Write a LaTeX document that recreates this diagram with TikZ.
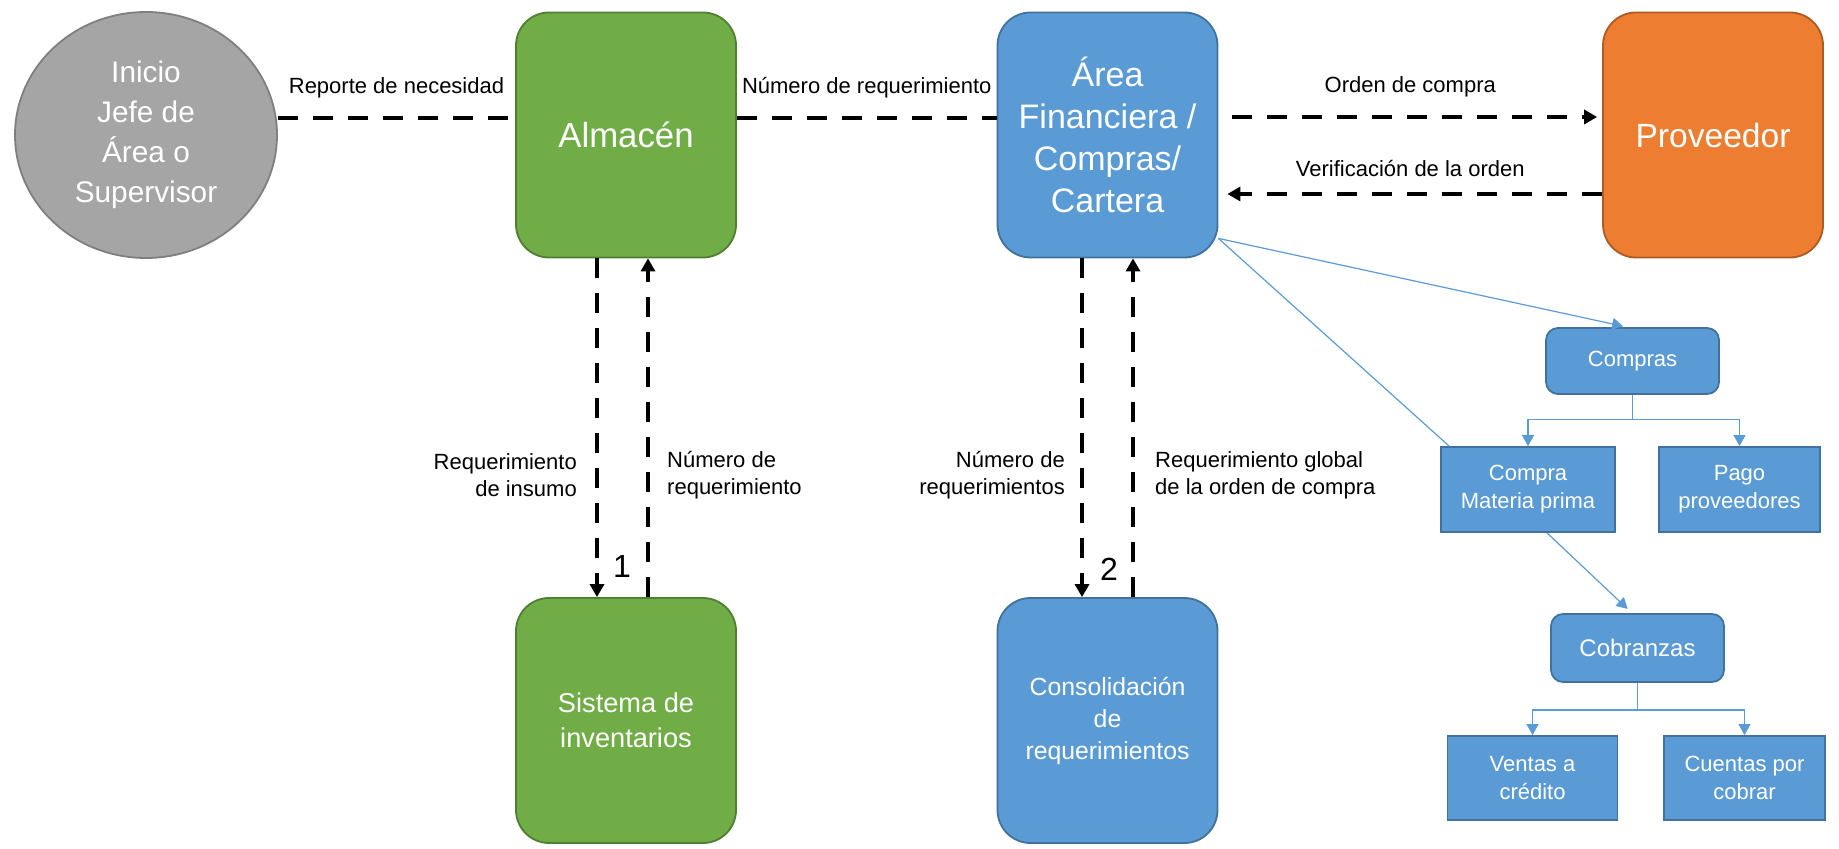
\documentclass[tikz,border=0pt]{standalone}
\usepackage{fontspec}
\setmainfont{Liberation Sans}
\usetikzlibrary{arrows.meta,shapes,positioning,calc}

\definecolor{gris}{HTML}{A5A5A5}
\definecolor{grisb}{HTML}{7F7F7F}
\definecolor{verde}{HTML}{70AD47}
\definecolor{verdeb}{HTML}{507E32}
\definecolor{azul}{HTML}{5B9BD5}
\definecolor{azulb}{HTML}{41719C}
\definecolor{naranja}{HTML}{ED7D31}
\definecolor{naranjab}{HTML}{AE5A21}

\begin{document}
\begin{tikzpicture} [x=0.5pt,y=-0.5pt,
  caja/.style={draw, rounded corners=16.5pt, line width=0.9pt, text=white, align=center, minimum width=110pt, minimum height=122.5pt},
  flujo/.style={line width=2.2pt, dash pattern=on 10pt off 7.5pt},
  punta/.style={-{Triangle[width=7pt,length=6.5pt]}},
  lbl/.style={font=\fontsize{11}{13.5}\selectfont, inner sep=2pt},
  num/.style={font=\fontsize{16}{16}\selectfont, inner sep=1pt},
  rama/.style={color=azul, line width=0.6pt},
  rpunta/.style={-{Triangle[width=6pt,length=5.5pt]}},
  hoja/.style={draw=azulb, fill=azul, line width=0.9pt, text=white, align=center, font=\fontsize{11}{14}\selectfont}]
\useasboundingbox (0,0) rectangle (1839,849);

\node[ellipse, draw=grisb, fill=gris, line width=0.9pt, minimum width=131pt, minimum height=123pt, text=white, align=center, font=\fontsize{14.9}{20}\selectfont] (inicio) at (146,135) {Inicio\\Jefe de\\Área o\\Supervisor};
\node[caja, fill=verde, draw=verdeb, font=\fontsize{17.4}{21}\selectfont, node distance=240pt, right of=inicio] (alm) {Almacén};
\node[caja, fill=azul, draw=azulb, font=\fontsize{17}{21}\selectfont, node distance=240.75pt, right of=alm] (area) {Área\\Financiera /\\Compras/\\Cartera};
\node[caja, fill=naranja, draw=naranjab, font=\fontsize{16.8}{21}\selectfont, node distance=302.75pt, right of=area] (prov) {Proveedor};
\node[caja, fill=verde, draw=verdeb, font=\fontsize{13.6}{17.5}\selectfont, node distance=292.75pt, below of=alm] (sis) {Sistema de\\inventarios};
\node[caja, fill=azul, draw=azulb, font=\fontsize{12.4}{16}\selectfont, node distance=292.75pt, below of=area] (cons) {Consolidación\\de\\requerimientos};

\node[hoja, rounded corners=6pt, minimum width=86.5pt, minimum height=33pt] (compras) at (1632.5,361) {Compras};
\node[hoja, minimum width=87pt, minimum height=42.5pt] (cmp) at (1528,489.5) {Compra\\Materia prima};
\node[hoja, minimum width=80.5pt, minimum height=42.5pt] (pago) at (1739.5,489.5) {Pago\\proveedores};
\node[hoja, rounded corners=6pt, minimum width=86.5pt, minimum height=34pt, font=\fontsize{12}{14}\selectfont] (cobr) at (1637.5,648) {Cobranzas};
\node[hoja, minimum width=85pt, minimum height=42pt] (ventas) at (1532.5,778) {Ventas a\\crédito};
\node[hoja, minimum width=80.5pt, minimum height=42pt] (cuentas) at (1744.5,778) {Cuentas por\\cobrar};

\path[flujo] ([yshift=8.5pt]inicio.east) edge node[lbl, above=7pt]{Reporte de necesidad} ([yshift=8.5pt]alm.west)
             ([yshift=8.5pt]alm.east) edge node[lbl, above=7pt]{Número de requerimiento} ([yshift=8.5pt]area.west);
\path[flujo, punta] ([yshift=9pt]area.east) edge[shorten <=7pt, shorten >=2.5pt] node[lbl, above=7pt]{Orden de compra} ([yshift=9pt]prov.west)
             ([yshift=-29.5pt]prov.west) edge[shorten >=4.5pt] node[lbl, above=5.5pt]{Verificación de la orden} ([yshift=-29.5pt]area.east);

\path[flujo, punta] ([xshift=-14.5pt]alm.south) edge node[lbl, pos=.64, left=7pt, align=right]{Requerimiento\\de insumo} node[num, pos=.91, right=6pt]{1} ([xshift=-14.5pt]sis.north)
             ([xshift=11pt]sis.north) edge node[lbl, pos=.36, right=6.5pt, align=left]{Número de\\requerimiento} ([xshift=11pt]alm.south)
             ([xshift=-12.75pt]area.south) edge node[lbl, pos=.64, left=5.5pt, align=right]{Número de\\requerimientos} node[num, pos=.918, right=7pt]{2} ([xshift=-12.75pt]cons.north)
             ([xshift=12.75pt]cons.north) edge node[lbl, pos=.36, right=8pt, align=left]{Requerimiento global\\de la orden de compra} ([xshift=12.75pt]area.south);

\path[rama, rpunta] (area.-43) edge[shorten >=2pt] ([xshift=-2.75pt]compras.north)
                    ([xshift=9.5pt]cmp.south) edge[shorten >=3pt] ([xshift=-2.75pt]cobr.north);
\path[rama] (area.-43) edge ([xshift=4.5pt]cmp.north west);

\draw[rama, rpunta] (compras.south) -- ++(0,25) -| (cmp.north);
\draw[rama, rpunta] (compras.south) -- ++(0,25) -| (pago.north);
\draw[rama, rpunta] (cobr.south) -- ++(0,27) -| (ventas.north);
\draw[rama, rpunta] (cobr.south) -- ++(0,27) -| (cuentas.north);
\end{tikzpicture}
\end{document}
